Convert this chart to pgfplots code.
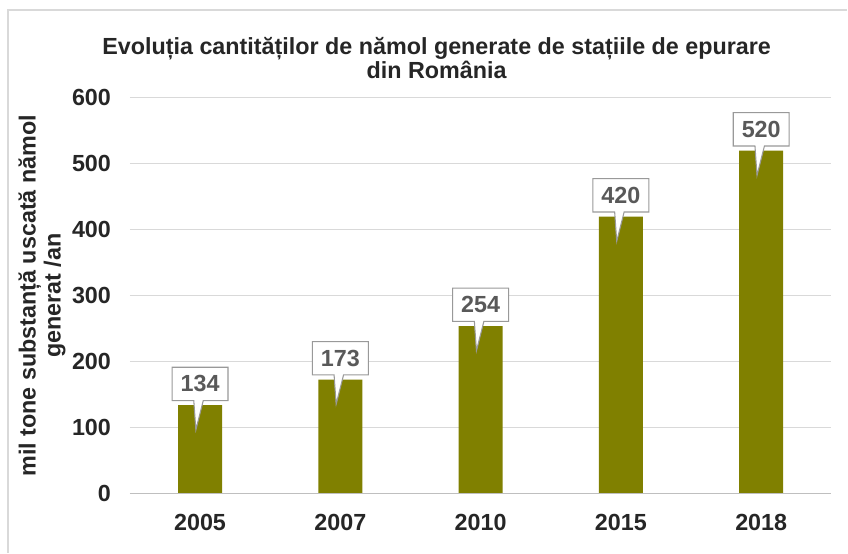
\documentclass[border=0pt]{standalone}
\usepackage{fontspec}
\setmainfont{Liberation Sans}
\usepackage{pgfplots}
\pgfplotsset{compat=1.18}
\usetikzlibrary{shapes.callouts}

\definecolor{barolive}{RGB}{128,128,0}
\definecolor{gridgray}{RGB}{217,217,217}
\definecolor{axisgray}{RGB}{191,191,191}
\definecolor{labgray}{RGB}{89,89,89}
\definecolor{txt}{RGB}{38,38,38}

% 1 px of the reference = 0.75pt
\newcommand{\px}[2]{({#1*0.75pt},{(553-#2)*0.75pt})}

\begin{document}
\begin{tikzpicture}
% canvas and outer frame
\path \px{0}{553} rectangle \px{848}{0};
\draw[gridgray, line width=1pt] \px{8}{553} -- \px{8}{10} -- \px{848}{10};

\node[font=\bfseries\fontsize{17.5}{17.5}\selectfont, text=txt, align=center]
  at \px{437}{58} {Evoluția cantităților de nămol generate de stațiile de epurare\\din România};

\begin{axis}[
    at={(97.5pt,44.25pt)}, anchor=south west,
    scale only axis,
    width=526.5pt, height=297pt,
    xmin=-0.5, xmax=4.5,
    ymin=0, ymax=600,
    ytick={0,100,...,600},
    xtick=data,
    xticklabels={2005,2007,2010,2015,2018},
    axis line style={draw=none},
    tick style={draw=none},
    ymajorgrids,
    grid style={gridgray, line width=0.8pt},
    /pgf/number format/assume math mode=true,
    ticklabel style={font=\bfseries\fontsize{17.5}{20}\selectfont, text=txt},
    yticklabel style={xshift=-10.7pt},
    xticklabel style={yshift=-8pt},
    ylabel={mil tone substanță uscată nămol\\generat /an},
    ylabel style={at={(axis description cs:-0.1254,0.5)}, anchor=center,
      align=center, font=\bfseries\fontsize{17.5}{18.75}\selectfont, text=txt},
    ybar,
    bar width=33pt,
    nodes near coords,
    every node near coord/.append style={
      rectangle callout, draw=gray!80, fill=white, line width=0.8pt,
      anchor=center, yshift=16pt,
      minimum width=42pt, minimum height=25pt, inner sep=2pt,
      font=\bfseries\fontsize{17.5}{20}\selectfont, text=labgray,
      callout relative pointer={(-2pt,-22pt)}},
  ]
\addplot[fill=barolive, draw=none] coordinates {
  (0,134) (1,173) (2,254) (3,420) (4,520)
};
\draw[axisgray, line width=0.8pt] (axis cs:-0.5,0) -- (axis cs:4.5,0);
\end{axis}
\end{tikzpicture}
\end{document}
